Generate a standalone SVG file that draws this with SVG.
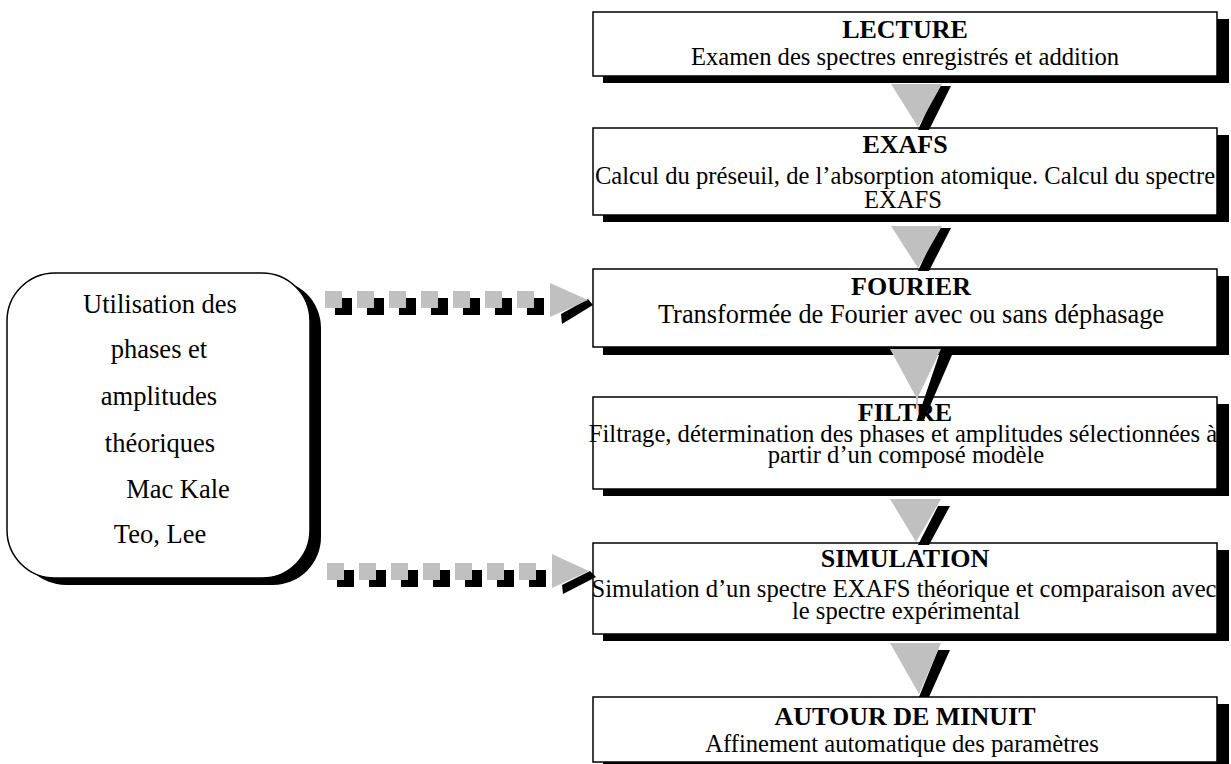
<svg xmlns="http://www.w3.org/2000/svg" width="1231" height="764" viewBox="0 0 1231 764">
<style>
.box{fill:#fff;stroke:#000;stroke-width:1.5}
.sh{fill:#000}
.t{font-family:"Liberation Serif","Times New Roman",serif;font-weight:bold;font-size:26px;text-anchor:middle;fill:#000}
.s{font-family:"Liberation Serif","Times New Roman",serif;font-size:24.6px;text-anchor:middle;fill:#000}
.l{font-family:"Liberation Serif","Times New Roman",serif;font-size:26.5px;text-anchor:middle;fill:#000}
.g{fill:#c0c0c0}
.k{fill:#000}
</style>
<rect width="1231" height="764" fill="#fff"/>

<g id="node-left">
<rect class="sh" x="18" y="280" width="303" height="305" rx="48"/>
<rect class="box" x="7" y="273" width="303" height="305" rx="48"/>
<text class="l" x="160" y="313">Utilisation des</text>
<text class="l" x="159" y="358">phases et</text>
<text class="l" x="159" y="405">amplitudes</text>
<text class="l" x="160" y="452">théoriques</text>
<text class="l" x="178" y="498">Mac Kale</text>
<text class="l" x="160" y="543">Teo, Lee</text>
</g>

<g id="node-lecture">
<rect class="sh" x="603" y="19" width="626" height="64"/>
<rect class="box" x="593" y="12" width="624" height="64"/>
<text class="t" x="905" y="38">LECTURE</text>
<text class="s" x="905" y="65">Examen des spectres enregistrés et addition</text>
</g>

<g id="node-exafs">
<rect class="sh" x="603" y="135" width="626" height="87"/>
<rect class="box" x="593" y="128" width="624" height="87"/>
<text class="t" x="905" y="153">EXAFS</text>
<text class="s" x="905" y="184">Calcul du préseuil, de l’absorption atomique. Calcul du spectre</text>
<text class="s" x="903" y="208">EXAFS</text>
</g>

<g id="node-fourier">
<rect class="sh" x="603" y="276" width="626" height="79"/>
<rect class="box" x="593" y="269" width="624" height="78"/>
<text class="t" x="911" y="295">FOURIER</text>
<text class="s" x="911" y="323" style="font-size:26.4px">Transformée de Fourier avec ou sans déphasage</text>
</g>

<g id="node-filtre">
<rect class="sh" x="603" y="404" width="626" height="92"/>
<rect class="box" x="593" y="397" width="624" height="92"/>
<text class="t" x="905" y="421">FILTRE</text>
<text class="s" x="903" y="442">Filtrage, détermination des phases et amplitudes sélectionnées à</text>
<text class="s" x="906" y="463">partir d’un composé modèle</text>
</g>

<g id="node-simulation">
<rect class="sh" x="603" y="550" width="626" height="91"/>
<rect class="box" x="593" y="543" width="624" height="91"/>
<text class="t" x="905" y="567">SIMULATION</text>
<text class="s" x="904" y="597">Simulation d’un spectre EXAFS théorique et comparaison avec</text>
<text class="s" x="906" y="619">le spectre expérimental</text>
</g>

<g id="node-autour">
<rect class="sh" x="603" y="704" width="626" height="65"/>
<rect class="box" x="593" y="697" width="624" height="65"/>
<text class="t" x="905" y="725">AUTOUR DE MINUIT</text>
<text class="s" x="902" y="752">Affinement automatique des paramètres</text>
</g>

<g id="connectors">
<!-- vertical arrows -->
<polygon class="k" points="938,86 951,86 929,130 918,130"/>
<polygon class="g" points="891,84 942,84 918,127"/>
<polygon class="k" points="938,228 951,228 929,271 918,271"/>
<polygon class="g" points="891,226 942,226 918,268"/>
<polygon class="k" points="939,355 952,355 924,420 917,420"/>
<polygon class="g" points="890,349 941,349 918,397 917,420 916,397"/>
<polygon class="k" points="938,506 950,506 929,545 918,545"/>
<polygon class="g" points="890,499 941,499 916,542"/>
<polygon class="k" points="938,650 950,650 929,697 919,697"/>
<polygon class="g" points="890,643 941,643 919,694"/>
<!-- dotted arrow 1 -->
<g>
<rect class="k" x="335" y="298" width="17" height="17"/>
<rect class="k" x="367" y="298" width="17" height="17"/>
<rect class="k" x="399" y="298" width="17" height="17"/>
<rect class="k" x="431" y="298" width="17" height="17"/>
<rect class="k" x="463" y="298" width="17" height="17"/>
<rect class="k" x="495" y="298" width="17" height="17"/>
<rect class="k" x="527" y="298" width="17" height="17"/>
<rect class="g" x="325" y="291" width="17" height="17"/>
<rect class="g" x="357" y="291" width="17" height="17"/>
<rect class="g" x="389" y="291" width="17" height="17"/>
<rect class="g" x="421" y="291" width="17" height="17"/>
<rect class="g" x="453" y="291" width="17" height="17"/>
<rect class="g" x="485" y="291" width="17" height="17"/>
<rect class="g" x="517" y="291" width="17" height="17"/>
<polygon class="k" points="561,314 562,324 593,305 588,299"/>
<polygon class="g" points="550,283 550,317 588,300"/>
</g>
<!-- dotted arrow 2 -->
<g>
<rect class="k" x="337" y="570" width="17" height="17"/>
<rect class="k" x="369" y="570" width="17" height="17"/>
<rect class="k" x="401" y="570" width="17" height="17"/>
<rect class="k" x="433" y="570" width="17" height="17"/>
<rect class="k" x="465" y="570" width="17" height="17"/>
<rect class="k" x="497" y="570" width="17" height="17"/>
<rect class="k" x="529" y="570" width="17" height="17"/>
<rect class="g" x="327" y="563" width="17" height="17"/>
<rect class="g" x="359" y="563" width="17" height="17"/>
<rect class="g" x="391" y="563" width="17" height="17"/>
<rect class="g" x="423" y="563" width="17" height="17"/>
<rect class="g" x="455" y="563" width="17" height="17"/>
<rect class="g" x="487" y="563" width="17" height="17"/>
<rect class="g" x="519" y="563" width="17" height="17"/>
<polygon class="k" points="562,585 563,594 596,577 590,571"/>
<polygon class="g" points="552,554 552,588 589,571"/>
</g>
</g>
</svg>
